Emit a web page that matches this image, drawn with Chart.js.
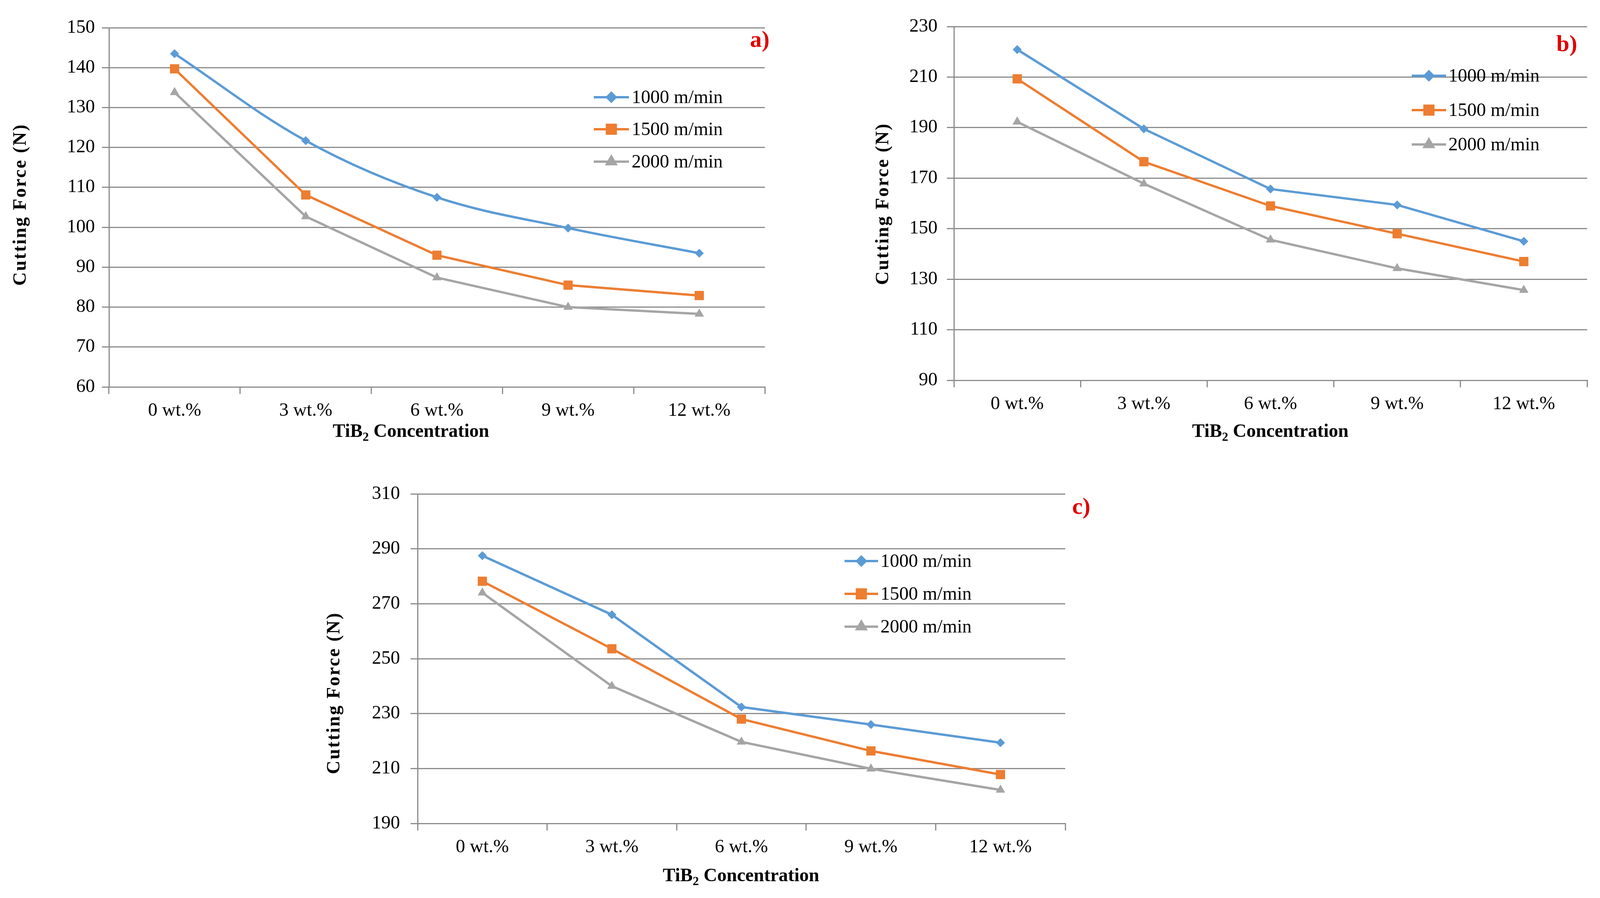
<!DOCTYPE html>
<html>
<head>
<meta charset="utf-8">
<script src="https://cdn.jsdelivr.net/npm/chart.js@4.4.1/dist/chart.umd.min.js"></script>
<style>
  html, body { margin: 0; padding: 0; background: #fff; }
  body { width: 4112px; height: 2300px; position: relative; overflow: hidden; }
  canvas { position: absolute; left: 0; top: 0; }
</style>
</head>
<body>
<canvas id="chartA" width="4112" height="2300"></canvas>
<canvas id="chartB" width="4112" height="2300"></canvas>
<canvas id="chartC" width="4112" height="2300"></canvas>
<script>
/* ---- data ---- */
const categories = ["0 wt.%", "3 wt.%", "6 wt.%", "9 wt.%", "12 wt.%"];
const seriesLabels = ["1000 m/min", "1500 m/min", "2000 m/min"];

// a) cutting force (N)
const forceA1000 = [143.5, 121.7, 107.5, 99.8, 93.5];
const forceA1500 = [139.7, 108.1, 93.0, 85.5, 82.9];
const forceA2000 = [133.8, 102.7, 87.4, 80.0, 78.3];
// b)
const forceB1000 = [220.9, 189.5, 165.7, 159.4, 145.0];
const forceB1500 = [209.3, 176.5, 159.0, 148.0, 137.0];
const forceB2000 = [192.3, 167.8, 145.6, 134.3, 125.7];
// c)
const forceC1000 = [287.5, 266.0, 232.4, 226.0, 219.4];
const forceC1500 = [278.2, 253.6, 228.0, 216.4, 207.8];
const forceC2000 = [274.0, 240.0, 219.7, 209.9, 202.2];

// y axis ranges / steps
const yTicksA = { min: 60, max: 150, step: 10 };
const yTicksB = { min: 90, max: 230, step: 20 };
const yTicksC = { min: 190, max: 310, step: 20 };

const panelTags = ["a)", "b)", "c)"];
const yTitleText = "Cutting Force (N)";

/* ---- styling ---- */
const PAGE_W = 4112, PAGE_H = 2300;
const COLORS = ["#5B9BD5", "#ED7D31", "#A5A5A5"];
const STYLES = ["rectRot", "rect", "triangle"];
const RADII = [11, 16, 13];
const GRID = "#8c8c8c";
const TICK_LEN = 18;
const FONT = "'Liberation Serif', 'Times New Roman', serif";

/* Draws the legend, axis titles and panel tag at the spots they
   sit in the original figure (Excel put them there by hand). */
const panelText = {
  id: "panelText",
  afterDraw(chart, args, opts) {
    const ctx = chart.ctx;
    ctx.save();
    ctx.fillStyle = "#000";

    // legend: line sample + marker + label
    chart.data.datasets.forEach((ds, i) => {
      const y = opts.legend.rows[i];
      const [x0, x1] = opts.legend.line;
      ctx.strokeStyle = ds.borderColor;
      ctx.lineWidth = 6;
      ctx.beginPath();
      ctx.moveTo(x0, y);
      ctx.lineTo(x1, y);
      ctx.stroke();
      ctx.fillStyle = ds.borderColor;
      Chart.helpers.drawPoint(ctx, {
        pointStyle: ds.pointStyle, radius: ds.pointRadius, rotation: 0, borderWidth: 1
      }, (x0 + x1) / 2, y);
      ctx.fillStyle = "#000";
      ctx.font = "48px " + FONT;
      ctx.textAlign = "left";
      ctx.textBaseline = "middle";
      ctx.fillText(ds.label, opts.legend.textX, y + 2);
    });

    // y title (rotated)
    ctx.save();
    ctx.translate(opts.yTitle.x, opts.yTitle.y);
    ctx.rotate(-Math.PI / 2);
    ctx.font = "bold 48px " + FONT;
    ctx.letterSpacing = "3px";
    ctx.textAlign = "center";
    ctx.textBaseline = "middle";
    ctx.fillText(yTitleText, 0, 0);
    ctx.restore();

    // x title: "TiB" + subscript 2 + " Concentration"
    const big = "bold 48px " + FONT, small = "bold 32px " + FONT;
    ctx.textBaseline = "middle";
    ctx.textAlign = "left";
    ctx.font = big;
    const w1 = ctx.measureText("TiB").width;
    const w3 = ctx.measureText(" Concentration").width;
    ctx.font = small;
    const w2 = ctx.measureText("2").width;
    let x = opts.xTitle.x - (w1 + w2 + w3) / 2;
    ctx.font = big;
    ctx.fillText("TiB", x, opts.xTitle.y);
    ctx.font = small;
    ctx.fillText("2", x + w1, opts.xTitle.y + 14);
    ctx.font = big;
    ctx.fillText(" Concentration", x + w1 + w2, opts.xTitle.y);

    // panel tag
    ctx.fillStyle = "#e00000";
    ctx.font = "bold 60px " + FONT;
    ctx.textAlign = "center";
    ctx.fillText(opts.tag.text, opts.tag.x, opts.tag.y);
    ctx.restore();
  }
};

function makeDatasets(values, smooth) {
  return values.map((v, i) => ({
    label: seriesLabels[i],
    data: v,
    borderColor: COLORS[i],
    backgroundColor: COLORS[i],
    pointBackgroundColor: COLORS[i],
    pointBorderColor: COLORS[i],
    pointBorderWidth: 1,
    borderWidth: 6,
    pointStyle: STYLES[i],
    pointRadius: RADII[i],
    tension: smooth[i],
    fill: false
  }));
}

function makeChart(id, values, smooth, yt, box) {
  const Y_W = 130, X_H = 90;
  new Chart(document.getElementById(id), {
    type: "line",
    data: { labels: categories, datasets: makeDatasets(values, smooth) },
    plugins: [panelText],
    options: {
      responsive: false,
      devicePixelRatio: 1,
      animation: false,
      layout: {
        padding: {
          left: box.left - Y_W,
          top: box.top,
          right: PAGE_W - box.right,
          bottom: PAGE_H - box.bottom - X_H
        }
      },
      plugins: {
        legend: { display: false },
        tooltip: { enabled: false },
        panelText: box.text
      },
      scales: {
        x: {
          offset: true,
          afterFit: (s) => { s.height = X_H; },
          grid: { offset: true, drawOnChartArea: false, color: GRID, lineWidth: 3, tickLength: TICK_LEN },
          border: { color: GRID, width: 3 },
          ticks: { color: "#000", font: { family: FONT, size: 48 }, padding: 15, maxRotation: 0, autoSkip: false }
        },
        y: {
          min: yt.min,
          max: yt.max,
          afterFit: (s) => { s.width = Y_W; },
          grid: { color: GRID, lineWidth: 3, tickLength: TICK_LEN },
          border: { color: GRID, width: 3 },
          ticks: { stepSize: yt.step, color: "#000", font: { family: FONT, size: 48 }, padding: box.tickPad }
        }
      }
    }
  });
}

makeChart("chartA", [forceA1000, forceA1500, forceA2000], [0.35, 0, 0], yTicksA, {
  left: 279, right: 1958, top: 71, bottom: 991, tickPad: 18,
  text: {
    legend: { line: [1520, 1610], textX: 1617, rows: [249, 331, 414] },
    yTitle: { x: 54, y: 524 },
    xTitle: { x: 1052, y: 1107 },
    tag: { text: panelTags[0], x: 1945, y: 104 }
  }
});

makeChart("chartB", [forceB1000, forceB1500, forceB2000], [0, 0, 0], yTicksB, {
  left: 2442, right: 4063, top: 68, bottom: 974, tickPad: 24,
  text: {
    legend: { line: [3614, 3702], textX: 3708, rows: [194, 282, 370] },
    yTitle: { x: 2262, y: 522 },
    xTitle: { x: 3252, y: 1107 },
    tag: { text: panelTags[1], x: 4011, y: 115 }
  }
});

makeChart("chartC", [forceC1000, forceC1500, forceC2000], [0, 0, 0], yTicksC, {
  left: 1069, right: 2727, top: 1265, bottom: 2109, tickPad: 27,
  text: {
    legend: { line: [2162, 2248], textX: 2254, rows: [1437, 1521, 1605] },
    yTitle: { x: 857, y: 1775 },
    xTitle: { x: 1897, y: 2245 },
    tag: { text: panelTags[2], x: 2768, y: 1300 }
  }
});
</script>
</body>
</html>
